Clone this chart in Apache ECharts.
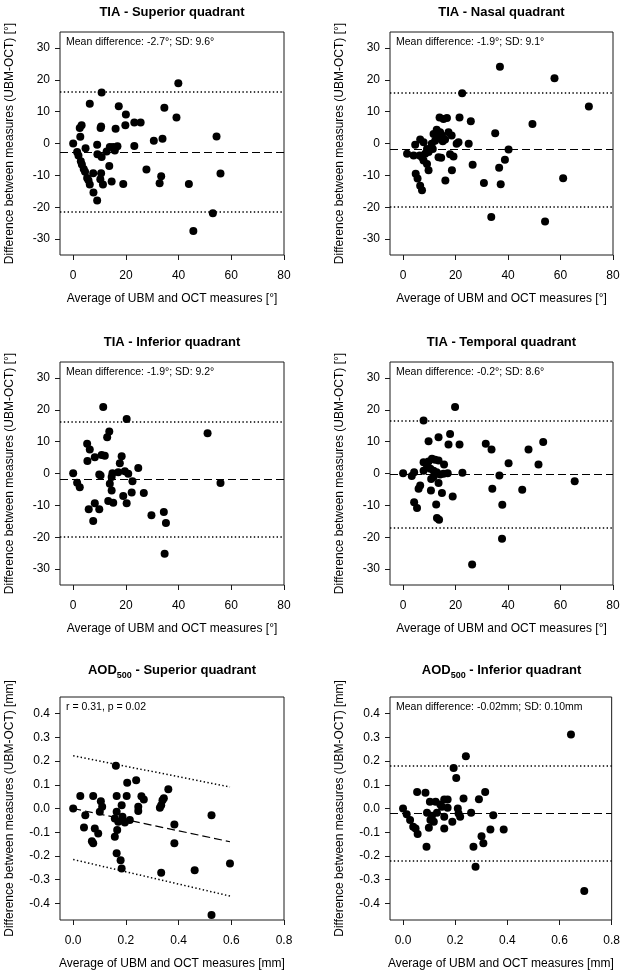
<!DOCTYPE html>
<html><head><meta charset="utf-8">
<script src="https://cdn.jsdelivr.net/npm/echarts@6/dist/echarts.min.js"></script>
<style>html,body{margin:0;padding:0;background:#fff}#c{width:623px;height:972px}</style>
</head><body><div id="c"></div>
<script>
// ---------- DATA ----------
const panelTitles = ['TIA - Superior quadrant', 'TIA - Nasal quadrant', 'TIA - Inferior quadrant', 'TIA - Temporal quadrant', 'AOD500 - Superior quadrant', 'AOD500 - Inferior quadrant'];
const panelNotes = ['Mean difference: -2.7°; SD: 9.6°', 'Mean difference: -1.9°; SD: 9.1°', 'Mean difference: -1.9°; SD: 9.2°', 'Mean difference: -0.2°; SD: 8.6°', 'r = 0.31, p = 0.02', 'Mean difference: -0.02mm; SD: 0.10mm'];
const yNameDeg = 'Difference between measures (UBM-OCT) [°]';
const xNameDeg = 'Average of UBM and OCT measures [°]';
const yNameMm = 'Difference between measures (UBM-OCT) [mm]';
const xNameMm = 'Average of UBM and OCT measures [mm]';

const tiaTicksX = [0, 20, 40, 60, 80];
const tiaTicksY = [-30, -20, -10, 0, 10, 20, 30];
const aodTicksX = [0, 0.2, 0.4, 0.6, 0.8];
const aodTicksY = [-0.4, -0.3, -0.2, -0.1, 0, 0.1, 0.2, 0.3, 0.4];

const tiaSuperior = [[0,0],[1.5,-2.7],[2.0,-3.8],[2.9,-5.6],[3.3,-6.6],[4.0,-8.0],[4.5,-8.9],[5.3,-10.8],[5.8,-11.5],[6.3,-12.9],[7.7,-15.4],[9.1,-17.9],[2.7,2.1],[2.5,4.9],[3.2,5.7],[4.7,-1.5],[6.3,12.5],[10.8,16.0],[10.4,4.9],[10.6,5.3],[9.1,-0.4],[9.2,-3.4],[10.8,-4.2],[7.6,-9.3],[10.6,-9.3],[10.3,-11.2],[11.3,-12.9],[12.7,-2.5],[13.7,-7.1],[13.9,-1.1],[15.2,-1.1],[15.8,-2.2],[16.8,-0.9],[14.6,-11.9],[19.0,-12.7],[16.1,4.6],[17.3,11.7],[20.0,9.1],[19.8,5.7],[23.2,6.6],[25.6,6.6],[23.2,-0.8],[27.8,-8.2],[30.6,0.9],[33.9,1.5],[34.6,11.2],[33.4,-10.3],[32.8,-12.5],[39.2,8.2],[39.9,18.9],[43.9,-12.7],[45.6,-27.5],[53.0,-21.9],[54.4,2.2],[55.9,-9.4]];
const tiaNasal = [[1.5,-3.2],[4.6,-0.4],[6.5,1.25],[7.8,0.4],[4.0,-3.75],[6.3,-3.75],[7.2,-4.3],[8.4,-3.2],[9.1,-1.7],[9.7,-2.7],[11.3,-1.7],[10.9,-0.1],[12.2,0.9],[11.6,3.0],[12.8,4.3],[14.1,3.5],[13.5,2.0],[14.8,2.5],[15.1,0.7],[16.0,1.25],[17.3,3.5],[18.5,2.5],[20.4,-0.1],[21.1,0.4],[13.9,8.2],[15.4,7.7],[16.7,8.0],[21.5,8.2],[25.8,7.0],[22.5,15.8],[13.5,-4.3],[14.5,-4.5],[17.9,-3.4],[19.2,-4.1],[18.6,-8.4],[16.1,-11.6],[9.1,-6.4],[9.7,-8.4],[4.8,-9.5],[5.5,-11.0],[6.5,-13.3],[7.2,-14.7],[7.8,-5.3],[25.0,-0.1],[26.5,-6.7],[30.8,-12.4],[35.1,3.2],[36.9,24.1],[37.2,-12.8],[36.6,-7.6],[38.8,-5.1],[40.2,-1.9],[33.6,-23.1],[49.3,6.1],[54.1,-24.5],[57.7,20.5],[61.0,-10.9],[70.8,11.6]];
const tiaInferior = [[0,0.1],[1.5,-2.9],[2.5,-4.3],[11.4,20.9],[20.3,17.1],[13.7,13.2],[12.9,11.4],[5.3,9.3],[6.3,7.5],[8.2,5.1],[10.8,5.8],[12.0,5.6],[5.4,3.9],[18.4,5.4],[17.7,3.2],[9.9,-0.3],[10.4,-0.6],[14.9,0.1],[14.6,-1.1],[17.1,0.4],[19.6,0.7],[20.9,-0.1],[24.7,1.7],[22.5,-2.4],[13.9,-3.2],[14.6,-5.3],[19.0,-7.1],[22.2,-6.0],[26.8,-6.1],[20.3,-9.3],[13.3,-8.6],[15.2,-9.2],[8.2,-9.3],[9.9,-11.25],[5.9,-11.25],[7.6,-14.9],[29.7,-13.1],[34.4,-12.1],[35.2,-15.5],[51.0,12.6],[55.9,-3.0],[34.7,-25.2]];
const tiaTemporal = [[0,0.1],[3.3,-0.8],[4.2,0.4],[7.8,16.6],[9.7,10.1],[13.5,11.4],[17.9,12.4],[17.3,9.1],[21.5,9.1],[19.8,20.9],[7.8,3.5],[9.7,3.75],[11.0,4.6],[12.2,4.3],[13.5,4.1],[15.6,2.8],[7.8,0.9],[9.1,2.0],[10.4,1.5],[11.6,0.9],[12.8,0.4],[14.1,-0.3],[15.4,-0.1],[17.0,0.1],[22.6,0.2],[10.7,-1.7],[11.6,-1.1],[13.5,-3.0],[6.5,-3.75],[5.9,-4.8],[10.6,-5.3],[14.8,-6.1],[18.9,-7.2],[4.2,-9.0],[5.3,-10.8],[12.6,-9.7],[12.9,-14.0],[13.7,-14.5],[31.5,9.3],[33.7,7.5],[40.2,3.2],[36.7,-0.6],[34.0,-4.8],[37.8,-9.8],[37.7,-20.5],[26.3,-28.6],[45.4,-5.1],[47.8,7.5],[51.6,2.8],[53.4,9.9],[65.4,-2.4]];
const aodSuperior = [[0,0],[0.027,0.053],[0.046,-0.028],[0.041,-0.08],[0.076,0.053],[0.071,-0.138],[0.076,-0.147],[0.082,-0.084],[0.095,-0.105],[0.105,0.031],[0.11,0.007],[0.101,-0.014],[0.162,0.18],[0.165,0.053],[0.165,-0.014],[0.158,-0.042],[0.171,-0.056],[0.167,-0.091],[0.158,-0.119],[0.165,-0.189],[0.18,-0.218],[0.184,-0.253],[0.184,0.014],[0.187,-0.035],[0.196,-0.059],[0.203,0.053],[0.205,0.109],[0.215,-0.049],[0.239,0.119],[0.247,0.007],[0.247,-0.011],[0.259,0.052],[0.268,0.038],[0.329,0.003],[0.334,0.014],[0.339,0.035],[0.344,0.043],[0.361,0.081],[0.384,-0.067],[0.384,-0.147],[0.334,-0.271],[0.461,-0.26],[0.525,-0.028],[0.595,-0.232],[0.525,-0.449]];
const aodInferior = [[0,0],[0.014,-0.024],[0.027,-0.049],[0.039,-0.077],[0.048,-0.084],[0.056,-0.108],[0.054,0.07],[0.086,0.066],[0.09,-0.161],[0.092,-0.018],[0.099,-0.081],[0.103,0.028],[0.105,-0.049],[0.111,-0.031],[0.118,-0.056],[0.125,0.028],[0.13,-0.018],[0.143,0.017],[0.149,0.007],[0.158,-0.035],[0.158,-0.084],[0.158,0.038],[0.171,0.038],[0.171,0.003],[0.189,-0.056],[0.194,0.171],[0.204,0.129],[0.21,0.0],[0.213,-0.021],[0.219,-0.035],[0.232,0.042],[0.241,0.22],[0.261,-0.018],[0.27,-0.161],[0.278,-0.246],[0.291,0.039],[0.301,-0.117],[0.308,-0.147],[0.315,0.07],[0.335,-0.088],[0.346,-0.028],[0.386,-0.088],[0.644,0.312],[0.695,-0.348]];

// mean difference and limits of agreement (horizontal lines)
const meanDiff = [-2.7, -1.9, -1.9, -0.2, null, -0.022];
const upperLoA = [16.1, 15.9, 16.1, 16.7, null, 0.18];
const lowerLoA = [-21.5, -19.7, -19.9, -17.1, null, -0.224];
// AOD superior: regression-based lines
const aodSupLineX = [0, 0.595];
const aodSupMean = [0.0, -0.14];
const aodSupUpper = [0.222, 0.091];
const aodSupLower = [-0.215, -0.369];

// ---------- LAYOUT ----------
const FONT = "'Liberation Sans', Arial, sans-serif";
const colLeft = [60, 390];
const colWidth = [224, 223];
const rowTop = [32, 362, 697];
const boxH = 223;
const titleY = [12, 342, 670];

const panels = [tiaSuperior, tiaNasal, tiaInferior, tiaTemporal, aodSuperior, aodInferior];
const grids = [], xAxes = [], yAxes = [], series = [], graphics = [];

panels.forEach((pts, i) => {
  const row = Math.floor(i / 2), col = i % 2;
  const isAod = row === 2;
  const left = colLeft[col], top = rowTop[row], w = colWidth[col];
  grids.push({left, top, width: w, height: boxH, show: true, borderColor: '#1a1a1a', borderWidth: 1, backgroundColor: 'transparent'});
  const tx = isAod ? aodTicksX : tiaTicksX;
  const ty = isAod ? aodTicksY : tiaTicksY;
  const fmt = isAod ? (v => v.toFixed(1)) : (v => String(v));
  xAxes.push({
    type: 'value', gridIndex: i, position: 'bottom',
    min: isAod ? -0.05 : -5, max: isAod ? 0.8 : 80,
    axisLine: {show: false, onZero: false}, splitLine: {show: false},
    axisTick: {show: true, inside: false, length: 5, customValues: tx, lineStyle: {color: '#1a1a1a', width: 1}},
    axisLabel: {customValues: tx, formatter: fmt, margin: 15, color: '#000', fontSize: 12, fontFamily: FONT},
    name: isAod ? xNameMm : xNameDeg, nameLocation: 'middle', nameGap: 44,
    nameTextStyle: {color: '#000', fontSize: 12, fontFamily: FONT, verticalAlign: 'middle'}
  });
  yAxes.push({
    type: 'value', gridIndex: i, position: 'left',
    min: isAod ? -0.47 : -35, max: isAod ? 0.47 : 35,
    axisLine: {show: false, onZero: false}, splitLine: {show: false},
    axisTick: {show: true, inside: false, length: 5, customValues: ty, lineStyle: {color: '#1a1a1a', width: 1}},
    axisLabel: {customValues: ty, formatter: fmt, margin: 10, color: '#000', fontSize: 12, fontFamily: FONT},
    name: isAod ? yNameMm : yNameDeg, nameLocation: 'middle', nameGap: 50,
    nameTextStyle: {color: '#000', fontSize: 12, fontFamily: FONT, verticalAlign: 'middle'}
  });
  const dashStyle = {color: '#000', width: 1.2, type: [8, 4]};
  const dotStyle = {color: '#000', width: 1.5, type: [1.4, 2.4]};
  const sc = {
    type: 'scatter', xAxisIndex: i, yAxisIndex: i, data: pts,
    symbol: 'circle', symbolSize: 8, itemStyle: {color: '#000', opacity: 1}, silent: true, z: 3
  };
  if (meanDiff[i] !== null) {
    sc.markLine = {
      silent: true, symbol: 'none', label: {show: false}, animation: false,
      data: [
        {yAxis: meanDiff[i], lineStyle: dashStyle},
        {yAxis: upperLoA[i], lineStyle: dotStyle},
        {yAxis: lowerLoA[i], lineStyle: dotStyle}
      ]
    };
  }
  series.push(sc);
  if (i === 4) {
    [[aodSupMean, dashStyle], [aodSupUpper, dotStyle], [aodSupLower, dotStyle]].forEach(([ys, st]) => {
      series.push({
        type: 'line', xAxisIndex: i, yAxisIndex: i, silent: true, symbol: 'none',
        data: aodSupLineX.map((x, k) => [x, ys[k]]), lineStyle: st, z: 2
      });
    });
  }
  // title
  let t = panelTitles[i];
  let style;
  if (t.startsWith('AOD500')) {
    style = {
      text: '{a|AOD}{s|500}{a|' + t.slice(6) + '}',
      rich: {
        a: {fontSize: 13, fontWeight: 'bold', fontFamily: FONT, fill: '#000', lineHeight: 20, verticalAlign: 'middle'},
        s: {fontSize: 9, fontWeight: 'bold', fontFamily: FONT, fill: '#000', lineHeight: 11, verticalAlign: 'bottom'}
      },
      align: 'center', verticalAlign: 'middle'
    };
  } else {
    style = {text: t, fontSize: 13, fontWeight: 'bold', fontFamily: FONT, fill: '#000', align: 'center', verticalAlign: 'middle'};
  }
  graphics.push({type: 'text', x: left + w / 2, y: titleY[row], style, silent: true});
  graphics.push({type: 'text', x: left + 6, y: top + 10,
    style: {text: panelNotes[i], fontSize: 10.5, fontFamily: FONT, fill: '#000', align: 'left', verticalAlign: 'middle'}, silent: true});
});

const chart = echarts.init(document.getElementById('c'), null, {renderer: 'canvas'});
chart.setOption({
  animation: false,
  backgroundColor: '#fff',
  grid: grids, xAxis: xAxes, yAxis: yAxes, series,
  graphic: graphics
});
</script></body></html>
